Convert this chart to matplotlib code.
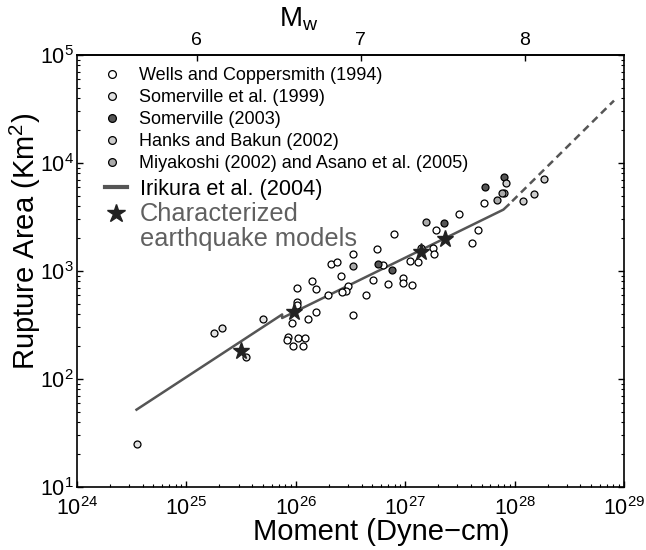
import numpy as np
import matplotlib
matplotlib.use('Agg')
import matplotlib.pyplot as plt
from matplotlib.lines import Line2D
from matplotlib.ticker import NullLocator, FixedLocator, FormatStrFormatter

plt.rcParams['font.family'] = ['Liberation Sans', 'DejaVu Sans']
plt.rcParams['mathtext.fontset'] = 'custom'
plt.rcParams['mathtext.rm'] = 'Liberation Sans'
plt.rcParams['mathtext.it'] = 'Liberation Sans:italic'
plt.rcParams['mathtext.bf'] = 'Liberation Sans:bold'

# seismic moment (dyne-cm) and rupture area (km^2)
wells_m0 = [7.9e26, 5.5e26, 3.3e26, 2.1e26, 2.4e26, 6.3e26, 1.11e27, 1.32e27, 1.39e27,
            1.78e27, 1.82e27, 2.6e26, 5.1e26, 7.0e26, 9.5e26, 9.6e26, 1.15e27, 1.42e26,
            1.52e26, 1.02e26, 3.0e26, 2.86e26, 2.66e26, 1.96e26, 4.4e26, 1.03e26, 1.03e26,
            9.2e25, 1.30e26, 1.53e26, 3.3e26, 8.4e25, 8.3e25, 1.05e26, 1.21e26, 9.4e25,
            1.16e26, 1.90e27, 4.6e27, 4.06e27, 3.1e27, 5.2e27]
wells_a = [2200, 1600, 1450, 1160, 1210, 1140, 1240, 1200, 1630,
           1620, 1430, 900, 830, 760, 860, 780, 740, 800,
           680, 690, 730, 650, 635, 600, 600, 520, 485,
           330, 360, 420, 390, 243, 230, 238, 238, 200,
           200, 2400, 2400, 1800, 3350, 4240]

som99_m0 = [3.5e24, 1.79e25, 2.1e25, 3.5e25, 5.05e25]
som99_a = [25, 265, 294, 161, 360]

som03_m0 = [8.05e27, 5.36e27, 2.26e27, 5.61e26, 7.62e26]
som03_a = [7460, 6040, 2800, 1150, 1020]

hanks_m0 = [1.86e28, 1.51e28, 1.20e28, 8.3e27, 8.05e27]
hanks_a = [7060, 5160, 4450, 6580, 5240]

miya_m0 = [7.6e27, 6.9e27, 1.54e27, 3.36e26]
miya_a = [5240, 4540, 2860, 1120]

char_m0 = [3.16e25, 9.7e25, 1.39e27, 2.31e27]
char_a = [182, 420, 1510, 1986]

irikura_m0 = [3.5e24, 7.5e25, 7.5e25, 7.9e27, 8.8e27]
irikura_a = [52, 396, 367, 3700, 4100]
irikura_ext_m0 = [8.8e27, 8.1e28]
irikura_ext_a = [4100, 37800]

mw_ticks = [6, 7, 8]

labels = ['Wells and Coppersmith (1994)', 'Somerville et al. (1999)', 'Somerville (2003)',
          'Hanks and Bakun (2002)', 'Miyakoshi (2002) and Asano et al. (2005)']
colors = ['#ffffff', '#e2e2e2', '#555555', '#cdcdcd', '#aaaaaa']
line_col = '#555555'

fig = plt.figure(figsize=(6.46, 5.5), dpi=100)
ax = fig.add_axes([77 / 646, 1 - 487 / 550, 547 / 646, 432 / 550])
ax.set_xscale('log')
ax.set_yscale('log')

ax.plot(irikura_m0, irikura_a, color=line_col, lw=1.8, zorder=2)
ax.plot(irikura_ext_m0, irikura_ext_a, color=line_col, lw=1.8, ls=(3, (3, 2)), zorder=2)

series = [(wells_m0, wells_a), (som99_m0, som99_a), (som03_m0, som03_a),
          (hanks_m0, hanks_a), (miya_m0, miya_a)]
for (xs, ys), c in zip(series, colors):
    ax.plot(xs, ys, ls='none', marker='o', ms=5, mfc=c, mec='k', mew=0.9, zorder=3)
ax.plot(char_m0, char_a, ls='none', marker='*', ms=12.5, color='#222222', zorder=4)

ax.set_xlim(1e24, 1e29)
ax.set_ylim(10, 1e5)
for s in ax.spines.values():
    s.set_linewidth(1.2)
ax.tick_params(which='both', direction='in', top=False, right=True, labelsize=15.5)
ax.tick_params(which='major', length=4, width=1)
ax.tick_params(which='minor', length=2.5, width=0.8)
ax.tick_params(axis='x', pad=7)
ax.tick_params(axis='y', pad=2.5)

ax.set_xlabel('Moment (Dyne\u2212cm)', fontsize=21)
ax.xaxis.set_label_coords(0.557, -0.072)
ax.set_ylabel('Rupture Area (Km$^2$)', fontsize=21)
ax.yaxis.set_label_coords(-0.063, 0.569)


def m0_to_mw(m0):
    m0 = np.clip(np.asarray(m0, dtype=float), 1e-300, None)
    return 2.0 / 3.0 * np.log10(m0) - 10.73


def mw_to_m0(mw):
    return 10 ** (1.5 * (np.asarray(mw, dtype=float) + 10.73))


sec = ax.secondary_xaxis('top', functions=(m0_to_mw, mw_to_m0))
sec.xaxis.set_major_locator(FixedLocator(mw_ticks))
sec.xaxis.set_major_formatter(FormatStrFormatter('%d'))
sec.xaxis.set_minor_locator(NullLocator())
sec.tick_params(direction='in', length=4, width=1, labelsize=14, pad=4)
sec.spines['top'].set_linewidth(1.2)
ax.text(0.406, 1.05, r'M$_\mathrm{w}$', transform=ax.transAxes, ha='center',
        va='bottom', fontsize=20)

# legends
h_data = [Line2D([], [], ls='none', marker='o', ms=5.6, mfc=c, mec='k', mew=0.9)
          for c in colors]
leg1 = ax.legend(h_data, labels, loc='upper left', bbox_to_anchor=(0.0437, 0.972),
                 frameon=False, fontsize=13, borderpad=0, borderaxespad=0,
                 handlelength=1.2, handletextpad=0.92, labelspacing=0.28)
ax.add_artist(leg1)

h_line = Line2D([], [], color=line_col, lw=3)
h_star = Line2D([], [], ls='none', marker='*', ms=13.5, color='#222222')
leg2 = ax.legend([h_line, h_star], ['Irikura et al. (2004)', 'Characterized'],
                 loc='upper left', bbox_to_anchor=(0.0512, 0.714), frameon=False,
                 fontsize=15.7, borderpad=0, borderaxespad=0, handlelength=1.0,
                 handletextpad=0.6, labelspacing=0.115)
char_txt = leg2.get_texts()[1]
char_txt.set_fontsize(18.3)
char_txt.set_color('#606060')
ax.annotate('earthquake models', xy=(0, 0), xycoords=char_txt, xytext=(0, -0.5),
            textcoords='offset points', ha='left', va='top', fontsize=18.3,
            color='#606060', zorder=10)

fig.savefig('out.png', dpi=100)
